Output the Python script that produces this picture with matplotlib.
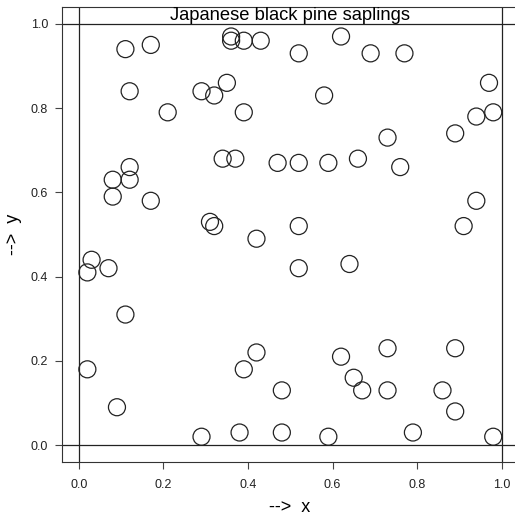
import matplotlib.pyplot as plt

plt.rcParams['font.family'] = ['Liberation Sans', 'DejaVu Sans']

# sapling locations in the unit square
x = [0.11, 0.17, 0.36, 0.36, 0.39, 0.43, 0.12, 0.21, 0.29, 0.32, 0.35, 0.39,
     0.34, 0.37, 0.47, 0.12, 0.12, 0.08, 0.08, 0.17, 0.31, 0.32, 0.42,
     0.62, 0.52, 0.69, 0.77, 0.97, 0.58, 0.94, 0.98, 0.89, 0.73, 0.52, 0.59,
     0.66, 0.76, 0.94, 0.52, 0.91,
     0.03, 0.02, 0.07, 0.11, 0.02, 0.42, 0.39, 0.48, 0.09, 0.29, 0.38, 0.48,
     0.52, 0.64, 0.62, 0.73, 0.89, 0.65, 0.67, 0.73, 0.86, 0.89, 0.59, 0.79, 0.98]
y = [0.94, 0.95, 0.97, 0.96, 0.96, 0.96, 0.84, 0.79, 0.84, 0.83, 0.86, 0.79,
     0.68, 0.68, 0.67, 0.66, 0.63, 0.63, 0.59, 0.58, 0.53, 0.52, 0.49,
     0.97, 0.93, 0.93, 0.93, 0.86, 0.83, 0.78, 0.79, 0.74, 0.73, 0.67, 0.67,
     0.68, 0.66, 0.58, 0.52, 0.52,
     0.44, 0.41, 0.42, 0.31, 0.18, 0.22, 0.18, 0.13, 0.09, 0.02, 0.03, 0.03,
     0.42, 0.43, 0.21, 0.23, 0.23, 0.16, 0.13, 0.13, 0.13, 0.08, 0.02, 0.03, 0.02]
ticks = [0.0, 0.2, 0.4, 0.6, 0.8, 1.0]
tick_labels = ['0.0', '0.2', '0.4', '0.6', '0.8', '1.0']

fig = plt.figure(figsize=(5.15, 5.18), dpi=100)
ax = fig.add_axes([62 / 515, 56 / 518, 456.6 / 515, 455 / 518])

ax.scatter(x, y, s=150, facecolors='none', edgecolors='#222222', linewidths=0.9, zorder=3)

# window boundary lines
for v in (0, 1):
    ax.axhline(v, color='#222222', lw=0.9)
    ax.axvline(v, color='#222222', lw=0.9)

ax.set_xlim(-0.04, 1.04)
ax.set_ylim(-0.04, 1.04)
ax.set_xticks(ticks)
ax.set_xticklabels(tick_labels)
ax.set_yticks(ticks)
ax.set_yticklabels(tick_labels)
ax.tick_params(length=5, width=0.8, colors='#444444', labelsize=9, labelcolor='#222222')
ax.tick_params(axis='x', pad=7.5)
ax.tick_params(axis='y', pad=5)
for sp in ax.spines.values():
    sp.set_color('#333333')
    sp.set_linewidth(0.8)

ax.text(0.5, 1.019, 'Japanese black pine saplings', ha='center', va='center', fontsize=13.2)
fig.text(290 / 515, 1 - 508 / 518, '-->  x', ha='center', va='center', fontsize=13)
fig.text(14 / 515, 1 - 234 / 518, '-->  y', ha='center', va='center', fontsize=13,
         rotation=90)

fig.savefig('out.png', dpi=100)
